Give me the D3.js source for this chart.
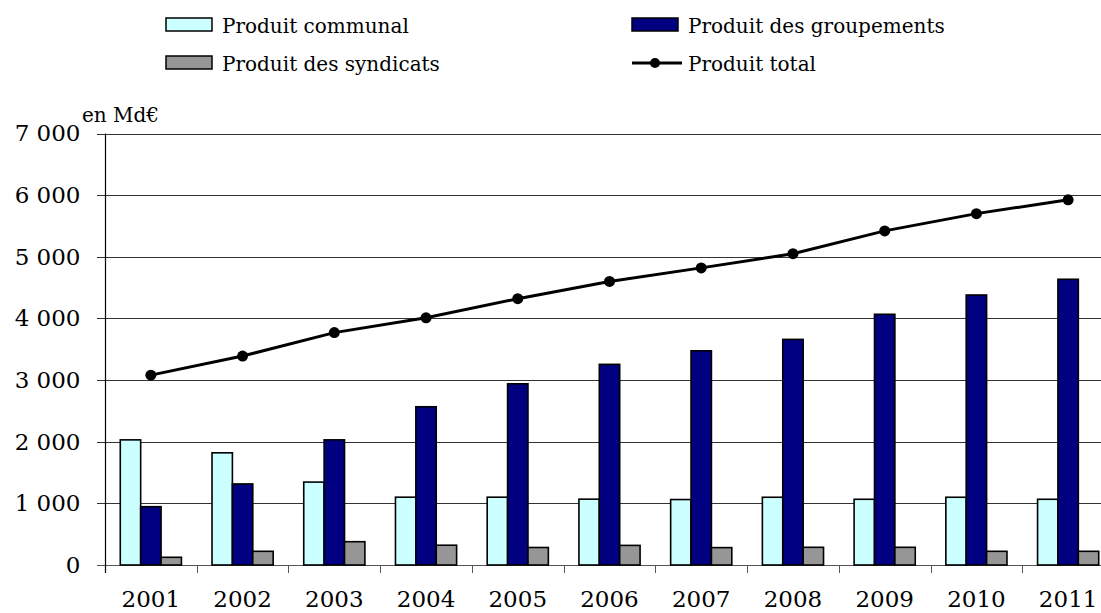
<!DOCTYPE html>
<html>
<head>
<meta charset="utf-8">
<script src="https://cdn.jsdelivr.net/npm/d3@7"></script>
<style>
  body { margin: 0; background: #fff; }
  text { font-family: "DejaVu Serif", serif; fill: #000; }
</style>
</head>
<body>
<svg id="chart" width="1101" height="613"></svg>
<script>
// data (en Md€)
const years = ["2001","2002","2003","2004","2005","2006","2007","2008","2009","2010","2011"];
const communal    = [2030, 1820, 1345, 1100, 1100, 1068, 1062, 1099, 1066, 1099, 1066];
const groupements = [946, 1315, 2030, 2567, 2940, 3255, 3475, 3660, 4067, 4380, 4635];
const syndicats   = [125, 222, 378, 321, 284, 318, 282, 287, 287, 222, 222];
const total       = [3080, 3390, 3770, 4010, 4320, 4600, 4820, 5050, 5420, 5700, 5925];
const yTicks = [0, 1000, 2000, 3000, 4000, 5000, 6000, 7000];

const seriesNames = ["Produit communal", "Produit des groupements", "Produit des syndicats"];
const seriesColors = ["#CCFFFF", "#000080", "#969696"];
const seriesData = [communal, groupements, syndicats];

const svg = d3.select("#chart");

const x0 = d3.scaleBand().domain(years).range([105, 1114]);
const x1 = d3.scaleBand().domain(d3.range(3)).range([0, x0.bandwidth()]).paddingOuter(0.75);
const y = d3.scaleLinear().domain([0, 7000]).range([565, 133.5]);

const fmt = d => d3.format(",")(d).replace(",", " ");

// gridlines
svg.append("g")
  .selectAll("line")
  .data(yTicks)
  .join("line")
    .attr("x1", 97)
    .attr("x2", 1114)
    .attr("y1", d => Math.round(y(d)) + 0.5)
    .attr("y2", d => Math.round(y(d)) + 0.5)
    .attr("stroke", d => d == 0 ? "#555" : "#333")
    .attr("stroke-width", 1);

// y axis
const yAxis = svg.append("g")
  .attr("transform", "translate(105.5,0)")
  .call(d3.axisLeft(y).tickValues(yTicks).tickSize(0).tickPadding(25).tickFormat(fmt));
yAxis.select(".domain").remove();
yAxis.selectAll("text").style("font-size", "23px").style("font-family", "DejaVu Serif");
svg.append("line")
  .attr("x1", 105.5).attr("x2", 105.5)
  .attr("y1", y(7000)).attr("y2", y(0) + 8)
  .attr("stroke", "#000").attr("stroke-width", 1.2);

// x axis ticks between categories
svg.append("g")
  .selectAll("line")
  .data(years.slice(1))
  .join("line")
    .attr("x1", d => Math.round(x0(d)) + 0.5)
    .attr("x2", d => Math.round(x0(d)) + 0.5)
    .attr("y1", y(0))
    .attr("y2", y(0) + 8)
    .attr("stroke", "#555");

svg.append("g")
  .selectAll("text")
  .data(years)
  .join("text")
    .attr("x", d => x0(d) + x0.bandwidth() / 2)
    .attr("y", 607)
    .attr("text-anchor", "middle")
    .style("font-size", "23px")
    .text(d => d);

// bars
seriesData.forEach(function(vals, s) {
  svg.append("g")
    .selectAll("rect")
    .data(vals)
    .join("rect")
      .attr("x", (d, i) => x0(years[i]) + x1(s))
      .attr("y", d => y(d))
      .attr("width", x1.bandwidth())
      .attr("height", d => y(0) - y(d))
      .attr("fill", seriesColors[s])
      .attr("stroke", "#000")
      .attr("stroke-width", 1.6);
});

// total line
const cx = (d, i) => x0(years[i]) + x0.bandwidth() / 2;
svg.append("path")
  .datum(total)
  .attr("d", d3.line().x(cx).y(d => y(d)))
  .attr("fill", "none")
  .attr("stroke", "#000")
  .attr("stroke-width", 3);
svg.append("g")
  .selectAll("circle")
  .data(total)
  .join("circle")
    .attr("cx", cx)
    .attr("cy", d => y(d))
    .attr("r", 5.5)
    .attr("fill", "#000");

// unit
svg.append("text")
  .attr("x", 82).attr("y", 122)
  .style("font-size", "20px")
  .text("en Md€");

// legend
const legend = [
  {name: seriesNames[0], color: seriesColors[0], x: 166, y: 18, type: "rect"},
  {name: seriesNames[1], color: seriesColors[1], x: 632, y: 18, type: "rect"},
  {name: seriesNames[2], color: seriesColors[2], x: 166, y: 56, type: "rect"},
  {name: "Produit total", color: "#000", x: 632, y: 56, type: "line"}
];
legend.forEach(function(l) {
  const g = svg.append("g");
  if (l.type == "rect") {
    g.append("rect")
      .attr("x", l.x).attr("y", l.y)
      .attr("width", 46).attr("height", 13)
      .attr("fill", l.color).attr("stroke", "#000").attr("stroke-width", 1.5);
  } else {
    g.append("line")
      .attr("x1", l.x).attr("x2", l.x + 50)
      .attr("y1", l.y + 7).attr("y2", l.y + 7)
      .attr("stroke", "#000").attr("stroke-width", 3);
    g.append("circle")
      .attr("cx", l.x + 23).attr("cy", l.y + 7).attr("r", 5)
      .attr("fill", "#000");
  }
  g.append("text")
    .attr("x", l.x + 56).attr("y", l.y + 15)
    .style("font-size", "20px")
    .text(l.name);
});
</script>
</body>
</html>
